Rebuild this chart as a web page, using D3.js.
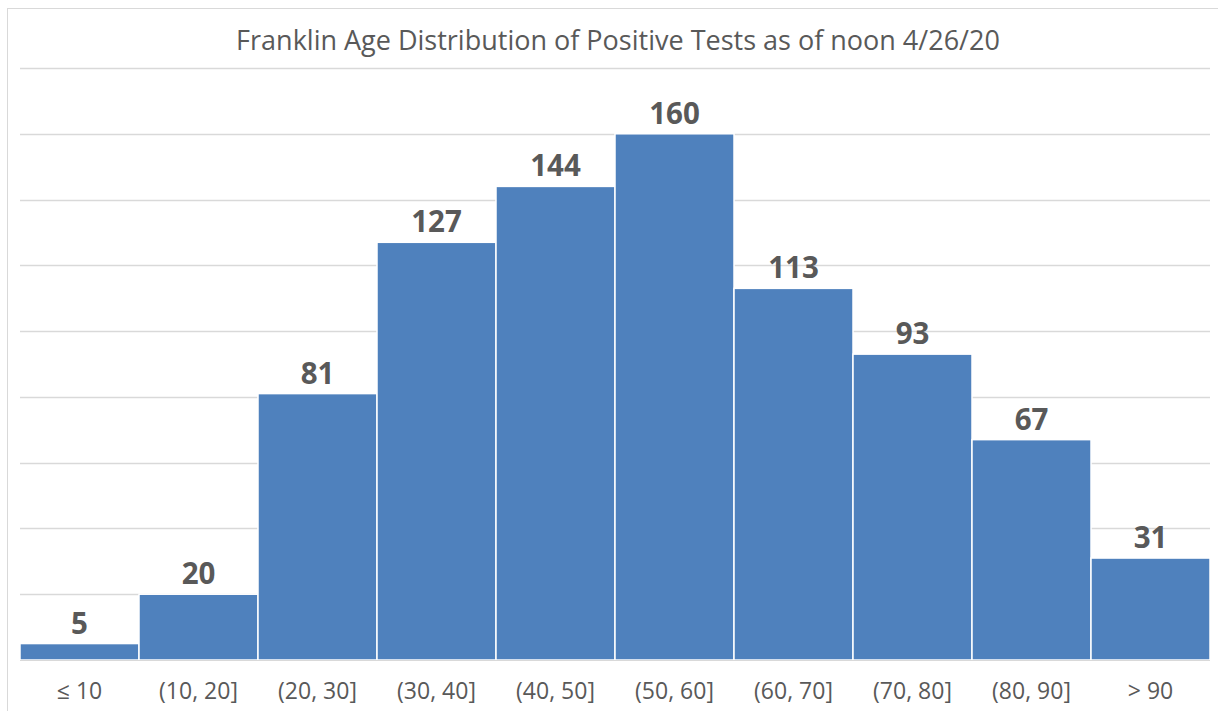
<!DOCTYPE html>
<html><head><meta charset="utf-8">
<script src="https://cdn.jsdelivr.net/npm/d3@7"></script>
<style>
body{margin:0;background:#fff;}
svg{display:block;}
</style></head>
<body><svg id="chart" width="1218" height="711"></svg>
<script>
const categories = ["≤ 10","(10, 20]","(20, 30]","(30, 40]","(40, 50]","(50, 60]","(60, 70]","(70, 80]","(80, 90]","> 90"];
const values = [5,20,81,127,144,160,113,93,67,31];
const yTicks = [0,20,40,60,80,100,120,140,160,180];
const title = "Franklin Age Distribution of Positive Tests as of noon 4/26/20";

const svg = d3.select("#chart");
const W = 1218, H = 711;
const m = {left:20, right:8, top:68, bottom:51};
const x = d3.scaleBand().domain(categories).range([m.left, W - m.right]).padding(0);
const y = d3.scaleLinear().domain([0,180]).range([H - m.bottom, m.top]);
const font = "'Open Sans', 'Liberation Sans', sans-serif";

// chart border
svg.append("rect").attr("x",7.5).attr("y",8.5).attr("width",1218).attr("height",720)
  .attr("fill","none").attr("stroke","#d9d9d9").attr("stroke-width",1);

// gridlines
svg.append("g").selectAll("line").data(yTicks.slice(1)).join("line")
  .attr("x1",m.left).attr("x2",W-m.right)
  .attr("y1",d=>Math.round(y(d))+0.5).attr("y2",d=>Math.round(y(d))+0.5)
  .attr("stroke","#d9d9d9").attr("stroke-width",1.5);

// bars
svg.append("g").selectAll("rect").data(values).join("rect")
  .attr("x",(d,i)=>x(categories[i]))
  .attr("y",d=>y(d))
  .attr("width",x.bandwidth())
  .attr("height",d=>y(0)-y(d))
  .attr("fill","#4f81bd")
  .attr("stroke","#ffffff").attr("stroke-width",1.5);

// baseline
svg.append("line").attr("x1",m.left).attr("x2",W-m.right)
  .attr("y1",y(0)+0.5).attr("y2",y(0)+0.5).attr("stroke","#d9d9d9").attr("stroke-width",1);

// value labels
svg.append("g").selectAll("text").data(values).join("text")
  .attr("x",(d,i)=>x(categories[i])+x.bandwidth()/2)
  .attr("y",d=>y(d)-10)
  .attr("text-anchor","middle")
  .attr("font-family",font)
  .attr("font-weight","bold").attr("font-size",29.5)
  .attr("fill","#595959")
  .text(d=>d);

// x axis labels
const xAxis = d3.axisBottom(x).tickSize(0);
const gx = svg.append("g").attr("transform",`translate(0,${y(0)})`).call(xAxis);
gx.select(".domain").remove();
gx.selectAll("text").attr("y",39).attr("dy",0)
  .attr("font-family",font)
  .attr("font-size",23).attr("fill","#595959");

// title
svg.append("text").attr("x",618).attr("y",50).attr("text-anchor","middle")
  .attr("font-family",font)
  .attr("font-size",27).attr("fill","#595959").text(title);
</script></body></html>
